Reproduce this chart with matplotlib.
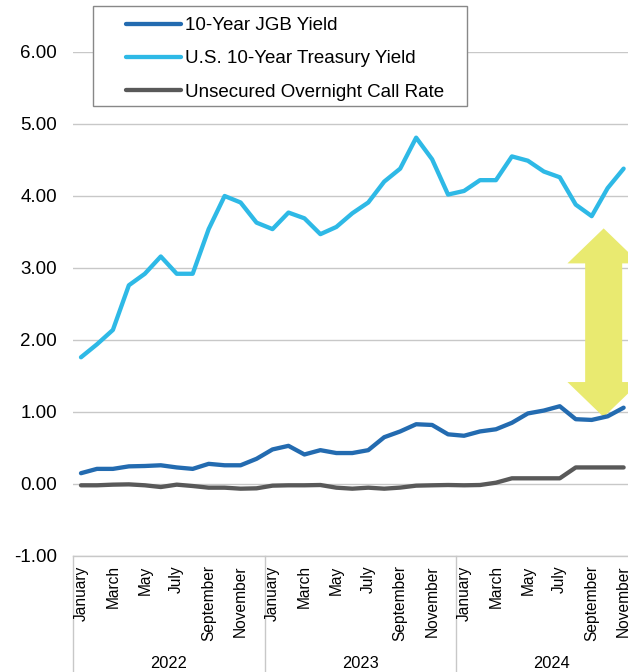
import matplotlib.pyplot as plt
import numpy as np
from matplotlib.patches import Polygon, Rectangle

plt.rcParams['font.family'] = ['Liberation Sans', 'DejaVu Sans']

years = ['2022', '2023', '2024']
month_names = ['January', 'February', 'March', 'April', 'May', 'June', 'July',
               'August', 'September', 'October', 'November', 'December']

# monthly averages, Jan 2022 - Nov 2024 (%)
us_10y = [1.76, 1.94, 2.14, 2.76, 2.92, 3.16, 2.92, 2.92, 3.54, 4.00, 3.91, 3.63,
          3.54, 3.77, 3.69, 3.47, 3.57, 3.76, 3.91, 4.20, 4.38, 4.81, 4.51, 4.02,
          4.07, 4.22, 4.22, 4.55, 4.49, 4.34, 4.26, 3.88, 3.72, 4.11, 4.38]
jgb_10y = [0.15, 0.21, 0.21, 0.245, 0.25, 0.26, 0.23, 0.21, 0.28, 0.26, 0.26, 0.35,
           0.48, 0.53, 0.41, 0.47, 0.43, 0.43, 0.47, 0.65, 0.73, 0.83, 0.82, 0.69,
           0.67, 0.73, 0.76, 0.85, 0.98, 1.02, 1.08, 0.90, 0.89, 0.94, 1.06]
call_rate = [-0.018, -0.018, -0.009, -0.005, -0.018, -0.042, -0.009, -0.028, -0.051, -0.051, -0.065, -0.06,
             -0.023, -0.018, -0.018, -0.014, -0.051, -0.065, -0.051, -0.065, -0.05, -0.023, -0.018, -0.014,
             -0.018, -0.014, 0.018, 0.079, 0.079, 0.079, 0.079, 0.23, 0.23, 0.23, 0.23]

# yield gap arrow (month index, top, bottom)
gap_x = 32.75
gap_top = 3.55
gap_bottom = 0.93

n_months = 36
x = np.arange(len(us_10y))

fig = plt.figure(figsize=(6.28, 6.72), dpi=100)
# axes runs a little past the right edge of the figure
ax = fig.add_axes([73/628, 1 - 556/672, 36*15.96/628, (556 - 52)/672])

grid_c = '#C8C8C8'
ax.set_ylim(-1, 6)
ax.set_xlim(-0.5, n_months - 0.5)
ax.set_yticks(np.arange(-1, 7))
ax.set_yticklabels(['%.2f' % v for v in np.arange(-1, 7)], fontsize=13.5)
ax.tick_params(axis='y', length=0, pad=11.5)
ax.yaxis.grid(True, color=grid_c, lw=1)
ax.set_axisbelow(True)
for s in ['top', 'left', 'right']:
    ax.spines[s].set_visible(False)
ax.spines['bottom'].set_color(grid_c)
ax.spines['bottom'].set_linewidth(1)
ax.set_xticks([])

# arrow between the two yields
sh = 1.16
hh = 2.27
hl = 0.486
pts = [(gap_x, gap_top), (gap_x + hh, gap_top - hl), (gap_x + sh, gap_top - hl),
       (gap_x + sh, gap_bottom + hl), (gap_x + hh, gap_bottom + hl), (gap_x, gap_bottom),
       (gap_x - hh, gap_bottom + hl), (gap_x - sh, gap_bottom + hl),
       (gap_x - sh, gap_top - hl), (gap_x - hh, gap_top - hl)]
ax.add_patch(Polygon(pts, closed=True, color='#E9EA70', lw=0, zorder=2))

kw = dict(lw=3.1, solid_joinstyle='round', solid_capstyle='round', zorder=3)
ax.plot(x, jgb_10y, color='#236BB0', label='10-Year JGB Yield', **kw)
ax.plot(x, us_10y, color='#2EB9E6', label='U.S. 10-Year Treasury Yield', **kw)
ax.plot(x, call_rate, color='#595959', label='Unsecured Overnight Call Rate', **kw)

# two-level category axis: months, then years
for i in range(n_months):
    if i % 2 == 0:
        ax.text(i, -1.13, month_names[i % 12], rotation=90, ha='center', va='top',
                fontsize=11.2, clip_on=False)
for k in range(len(years) + 1):
    ax.plot([12*k - 0.5, 12*k - 0.5], [-1, -2.62], color=grid_c, lw=1, clip_on=False)
for k, yr in enumerate(years):
    ax.text(12*k + 5.5, -2.5, yr, ha='center', va='center', fontsize=11.8, clip_on=False)

# legend box sits partly above the plot area
ax.add_patch(Rectangle((93/628, 1 - 106/672), (467 - 93)/628, 100/672,
                       transform=fig.transFigure, facecolor='white',
                       edgecolor='#888888', lw=1, zorder=4, clip_on=False))
leg = ax.legend(loc='upper left', bbox_to_anchor=(126/628, 1 - 17/672),
                bbox_transform=fig.transFigure, frameon=False, fontsize=13.5,
                borderpad=0, borderaxespad=0, handlelength=2.95, handletextpad=0.2,
                labelspacing=0.86)
leg.set_zorder(5)

fig.savefig('out.png', dpi=100)
